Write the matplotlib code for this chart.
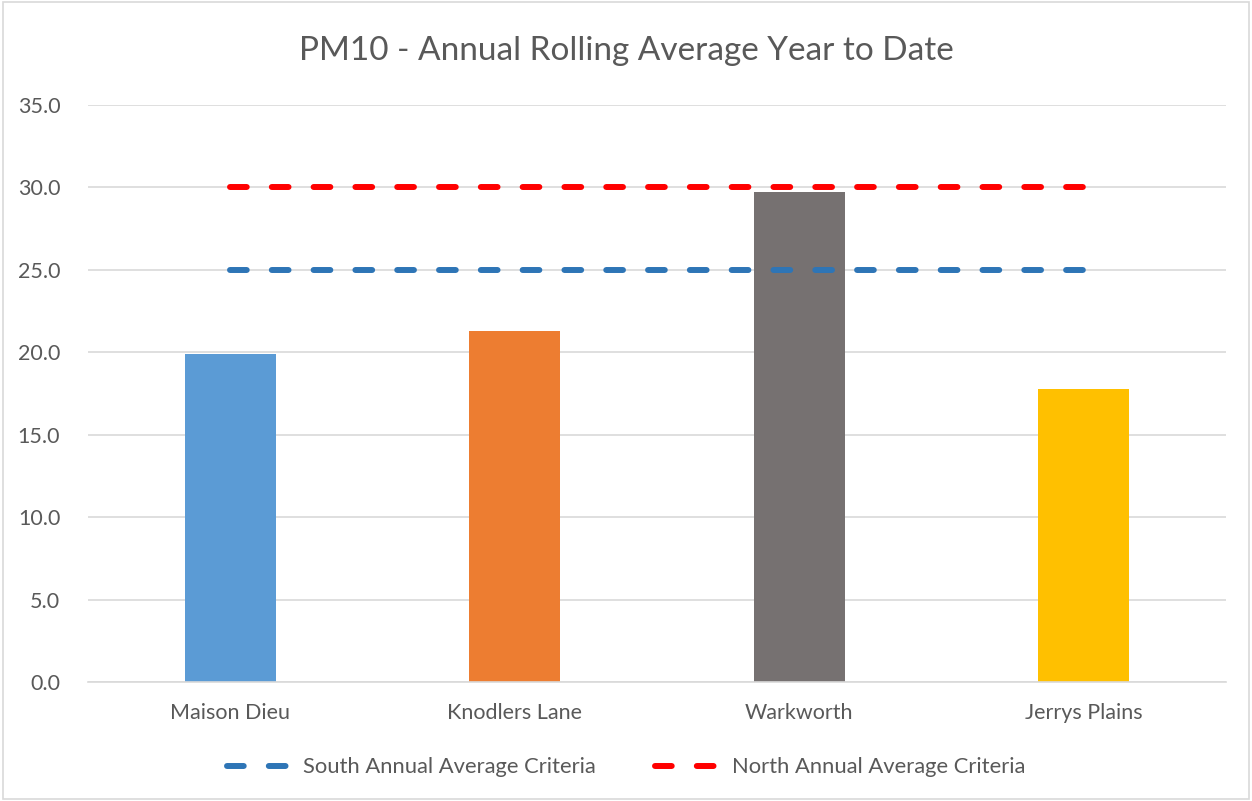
import matplotlib.pyplot as plt
from matplotlib.patches import Rectangle

sites = ['Maison Dieu', 'Knodlers Lane', 'Warkworth', 'Jerrys Plains']
pm10 = [19.9, 21.3, 29.7, 17.8]
south_criteria = [25, 25, 25, 25]
north_criteria = [30, 30, 30, 30]
bar_colors = ['#5B9BD5', '#ED7D31', '#767171', '#FFC000']

plt.rcParams['font.family'] = ['Lato', 'DejaVu Sans']
text_col = '#595959'

fig = plt.figure(figsize=(12.52, 8.01), dpi=100)
ax = fig.add_axes([0.0703, 0.1486, 0.9087, 0.7204])

x = range(len(sites))
dash = (0, (2.8, 4.2))
ax.bar(x, pm10, width=0.32, color=bar_colors, zorder=2)
ax.plot(x, south_criteria, color='#2E75B6', lw=4.3, ls=dash,
        dash_capstyle='round', label='South Annual Average Criteria', zorder=3)
ax.plot(x, north_criteria, color='#FF0000', lw=4.3, ls=dash,
        dash_capstyle='round', label='North Annual Average Criteria', zorder=3)

ax.set_xlim(-0.5, 3.5)
ax.set_ylim(0, 35)
ax.set_yticks(range(0, 36, 5))
ax.set_yticklabels([f'{v:.1f}' for v in range(0, 36, 5)])
ax.set_xticks(list(x))
ax.set_xticklabels(sites)
ax.grid(axis='y', color='#D9D9D9', lw=1.2, zorder=0)
for s in ['top', 'right', 'left']:
    ax.spines[s].set_visible(False)
ax.spines['bottom'].set_color('#D9D9D9')
ax.spines['bottom'].set_linewidth(1.2)
ax.tick_params(length=0, labelsize=15.5, labelcolor=text_col, pad=15)
ax.tick_params(axis='y', pad=20)

fig.suptitle('PM10 - Annual Rolling Average Year to Date', y=0.955, fontsize=24, color=text_col)

leg = fig.legend(loc='center', bbox_to_anchor=(0.5, 0.042), ncol=2, frameon=False,
                 fontsize=15.8, labelcolor=text_col, handlelength=2.8,
                 handletextpad=0.7, columnspacing=2.7)

fig.patches.append(Rectangle((0.002, 0.002), 0.996, 0.996, transform=fig.transFigure,
                             fill=False, edgecolor='#D9D9D9', lw=1.2))

fig.savefig('out.png', dpi=100, facecolor='white')
